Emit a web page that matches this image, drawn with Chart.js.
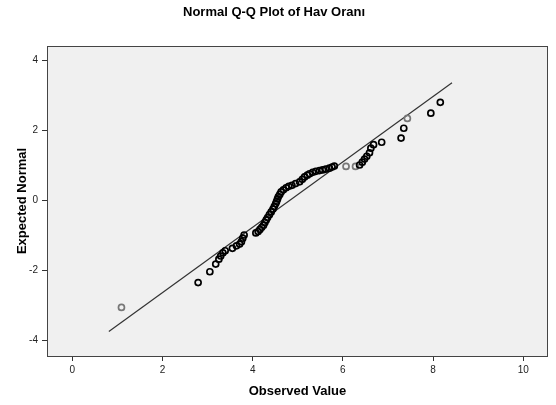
<!DOCTYPE html>
<html>
<head>
<meta charset="utf-8">
<script src="https://cdn.jsdelivr.net/npm/chart.js@4"></script>
<style>
  html, body { margin: 0; padding: 0; background: #ffffff; }
  #wrap { width: 556px; height: 405px; }
</style>
</head>
<body>
<div id="wrap"><canvas id="c" width="556" height="405"></canvas></div>
<script>
// ---- Data ----
const observed = [1.09, 2.79, 3.05, 3.18, 3.25, 3.29, 3.34, 3.39, 3.55, 3.64,
  3.71, 3.75, 3.78, 3.81, 4.07, 4.12, 4.16, 4.20, 4.24, 4.27,
  4.30, 4.33, 4.37, 4.41, 4.45, 4.48, 4.51, 4.53, 4.55, 4.57,
  4.60, 4.63, 4.68, 4.74, 4.80, 4.87, 4.95, 5.04, 5.10, 5.15,
  5.21, 5.26, 5.33, 5.40, 5.48, 5.55, 5.62, 5.70, 5.76, 5.81,
  6.07, 6.28, 6.37, 6.43, 6.48, 6.53, 6.59, 6.62, 6.68, 6.86,
  7.29, 7.35, 7.43, 7.95, 8.16];
const expected = [-3.05, -2.34, -2.03, -1.81, -1.67, -1.58, -1.49, -1.43, -1.36, -1.29,
  -1.24, -1.17, -1.07, -0.98, -0.92, -0.88, -0.82, -0.76, -0.70, -0.62,
  -0.55, -0.48, -0.40, -0.32, -0.24, -0.16, -0.08, -0.02, 0.05, 0.12,
  0.18, 0.25, 0.31, 0.37, 0.41, 0.44, 0.49, 0.54, 0.61, 0.68,
  0.73, 0.77, 0.81, 0.84, 0.86, 0.88, 0.90, 0.93, 0.96, 0.99,
  0.98, 0.98, 1.02, 1.10, 1.19, 1.27, 1.37, 1.50, 1.60, 1.67,
  1.79, 2.07, 2.35, 2.50, 2.81];
// estimated number of tied cases drawn on each marker (darker = several)
const tieCounts = [1, 2, 2, 2, 2, 2, 2, 2, 2, 2,
  2, 2, 2, 2, 2, 2, 2, 2, 2, 2,
  2, 2, 2, 2, 2, 2, 2, 2, 2, 2,
  2, 2, 2, 2, 2, 2, 2, 2, 2, 2,
  2, 2, 2, 2, 2, 2, 2, 2, 2, 2,
  1, 1, 2, 2, 2, 2, 2, 2, 2, 2,
  2, 2, 1, 2, 2];
const lineObserved = [0.81, 8.42];
const lineExpected = [-3.74, 3.37];
const xTicks = [0, 2, 4, 6, 8, 10];
const yTicks = [-4, -2, 0, 2, 4];
const chartTitle = 'Normal Q-Q Plot of Hav Oranı';
const xTitle = 'Observed Value';
const yTitle = 'Expected Normal';

// ---- Build chart ----
const points = observed.map((x, i) => ({ x: x, y: expected[i] }));
const linePts = lineObserved.map((x, i) => ({ x: x, y: lineExpected[i] }));

Chart.defaults.font.family = '"Liberation Sans", Arial, sans-serif';

const frame = {
  id: 'frame',
  beforeDraw(chart) {
    const { ctx, chartArea: a } = chart;
    ctx.save();
    ctx.fillStyle = '#F0F0F0';
    ctx.fillRect(a.left, a.top, a.right - a.left, a.bottom - a.top);
    ctx.restore();
  },
  afterDraw(chart) {
    const { ctx, chartArea: a } = chart;
    ctx.save();
    ctx.strokeStyle = '#444444';
    ctx.lineWidth = 1;
    ctx.strokeRect(a.left + 0.5, a.top + 0.5, a.right - a.left - 1, a.bottom - a.top);
    ctx.restore();
  }
};

new Chart(document.getElementById('c'), {
  type: 'scatter',
  data: {
    datasets: [
      {
        label: 'Observed',
        data: points,
        order: 0,
        pointRadius: 3,
        pointHoverRadius: 3,
        borderWidth: 1.7,
        backgroundColor: 'rgba(0,0,0,0)',
        borderColor: (c) => (tieCounts[c.dataIndex] > 1 ? '#000000' : '#777777')
      },
      {
        type: 'line',
        label: 'Normal line',
        data: linePts,
        order: 1,
        showLine: true,
        pointRadius: 0,
        borderColor: '#333333',
        borderWidth: 1.2,
        fill: false
      }
    ]
  },
  options: {
    responsive: false,
    animation: false,
    devicePixelRatio: 1,
    layout: { padding: { left: 0, right: 8, top: 0, bottom: 0 } },
    plugins: {
      legend: { display: false },
      tooltip: { enabled: false },
      title: {
        display: true,
        text: chartTitle,
        color: '#000000',
        font: { size: 13, weight: 'bold' },
        padding: { top: 5, bottom: 25.4 }
      }
    },
    scales: {
      x: {
        type: 'linear',
        min: -0.561,
        max: 10.548,
        afterFit: (s) => { s.height = 49; },
        afterBuildTicks: (s) => { s.ticks = xTicks.map(v => ({ value: v })); },
        border: { display: false },
        grid: { drawOnChartArea: false, drawTicks: true, tickLength: 5, color: '#333333' },
        ticks: { color: '#222222', font: { size: 10 }, padding: 3, maxRotation: 0 },
        title: {
          display: true, text: xTitle, color: '#000000',
          font: { size: 13, weight: 'bold' },
          padding: { top: 0, bottom: 5.7 }
        }
      },
      y: {
        type: 'linear',
        min: -4.437,
        max: 4.42,
        afterFit: (s) => { s.width = 47; },
        afterBuildTicks: (s) => { s.ticks = yTicks.map(v => ({ value: v })); },
        border: { display: false },
        grid: { drawOnChartArea: false, drawTicks: true, tickLength: 5, color: '#333333' },
        ticks: { color: '#222222', font: { size: 10 }, padding: 4 },
        title: {
          display: true, text: yTitle, color: '#000000',
          font: { size: 13, weight: 'bold' },
          padding: { top: 14.2, bottom: 0 }
        }
      }
    }
  },
  plugins: [frame]
});
</script>
</body>
</html>
